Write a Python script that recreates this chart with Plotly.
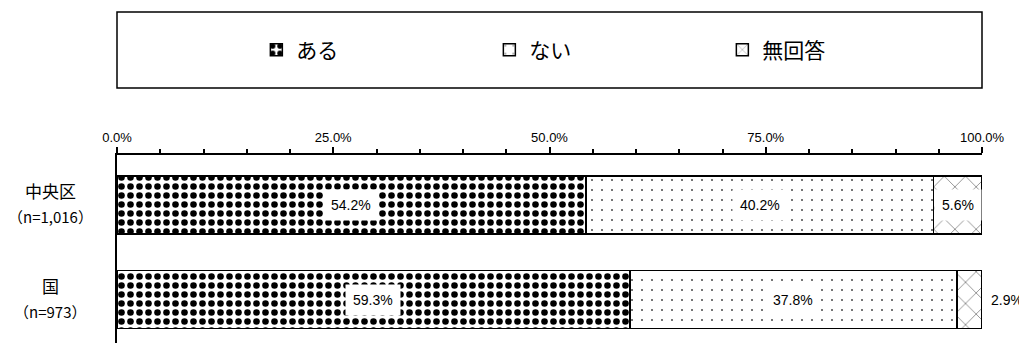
import plotly.graph_objects as go

categories = ["中央区", "国"]
sample_sizes = ["（n=1,016）", "（n=973）"]
series_names = ["ある", "ない", "無回答"]
values_aru = [54.2, 59.3]
values_nai = [40.2, 37.8]
values_mukaito = [5.6, 2.9]
tick_vals = [0, 25, 50, 75, 100]
tick_text = ["0.0%", "25.0%", "50.0%", "75.0%", "100.0%"]

series_values = [values_aru, values_nai, values_mukaito]
patterns = [
    dict(shape=".", fgcolor="#000000", bgcolor="#ffffff", size=9, solidity=0.42, fillmode="replace"),
    dict(shape=".", fgcolor="#333333", bgcolor="#ffffff", size=10, solidity=0.025, fillmode="replace"),
    dict(shape="x", fgcolor="#555555", bgcolor="#ffffff", size=15, solidity=0.08, fillmode="replace"),
]

FONT = "Liberation Sans, Arial, Noto Sans CJK JP, sans-serif"
JFONT = "Noto Sans CJK JP, sans-serif"

fig = go.Figure()
for name, vals, pat in zip(series_names, series_values, patterns):
    fig.add_trace(go.Bar(
        name=name, y=categories, x=vals, orientation="h",
        marker=dict(color="#ffffff", pattern=pat, line=dict(color="#000000", width=1.5)),
        hoverinfo="x+y+name",
    ))

# value labels
annotations = []
for ci, cat in enumerate(categories):
    cum = 0.0
    for vals in series_values:
        v = vals[ci]
        if v >= 4:
            annotations.append(dict(
                x=cum + v / 2, y=cat, xref="x", yref="y", text=f"{v:.1f}%",
                showarrow=False, bgcolor="#ffffff", borderpad=7,
                font=dict(family=FONT, size=14, color="#000000"),
            ))
        else:
            annotations.append(dict(
                x=cum + v, y=cat, xref="x", yref="y", text=f"{v:.1f}%",
                showarrow=False, xanchor="left", xshift=7,
                font=dict(family=FONT, size=14, color="#000000"),
            ))
        cum += v

# category labels (two centered lines)
for cat, n in zip(categories, sample_sizes):
    annotations.append(dict(
        x=-0.077, y=cat, xref="paper", yref="y", yshift=14,
        text=cat, showarrow=False, xanchor="center", yanchor="middle",
        font=dict(family=JFONT, size=17, color="#000000"),
    ))
    annotations.append(dict(
        x=-0.077, y=cat, xref="paper", yref="y", yshift=-12,
        text=n, showarrow=False, xanchor="center", yanchor="middle",
        font=dict(family=JFONT, size=15, color="#000000"),
    ))

fig.update_layout(
    width=1027, height=343,
    margin=dict(l=109, r=53, t=147, b=0),
    paper_bgcolor="#ffffff", plot_bgcolor="#ffffff",
    barmode="stack", bargap=0.386,
    showlegend=True,
    legend=dict(
        orientation="h", x=0.1611, y=1.5357, xref="paper", yref="paper",
        xanchor="left", yanchor="middle",
        entrywidth=188, entrywidthmode="pixels",
        font=dict(family=JFONT, size=21, color="#000000"),
        bgcolor="rgba(0,0,0,0)", traceorder="normal",
        itemclick=False, itemdoubleclick=False,
    ),
    xaxis=dict(
        side="top", range=[0, 100], tickvals=tick_vals, ticktext=tick_text,
        ticks="outside", ticklen=6, tickwidth=1.5, tickcolor="#000000",
        minor=dict(dtick=5, ticks="outside", ticklen=4, tickwidth=1.5, tickcolor="#000000"),
        showline=True, linecolor="#000000", linewidth=2,
        showgrid=False, zeroline=False, fixedrange=True,
        tickfont=dict(family=FONT, size=13, color="#000000"),
    ),
    yaxis=dict(
        categoryorder="array", categoryarray=categories,
        range=[1.545, -0.529], showticklabels=False, ticks="",
        showline=True, linecolor="#000000", linewidth=2,
        showgrid=False, zeroline=False, fixedrange=True,
    ),
    annotations=annotations,
    shapes=[dict(
        type="rect", xref="paper", yref="paper",
        x0=0, x1=1, y0=1.3418, y1=1.7296,
        line=dict(color="#000000", width=1.5), fillcolor="rgba(0,0,0,0)",
        layer="below",
    )],
)

fig.write_html("out.html")
